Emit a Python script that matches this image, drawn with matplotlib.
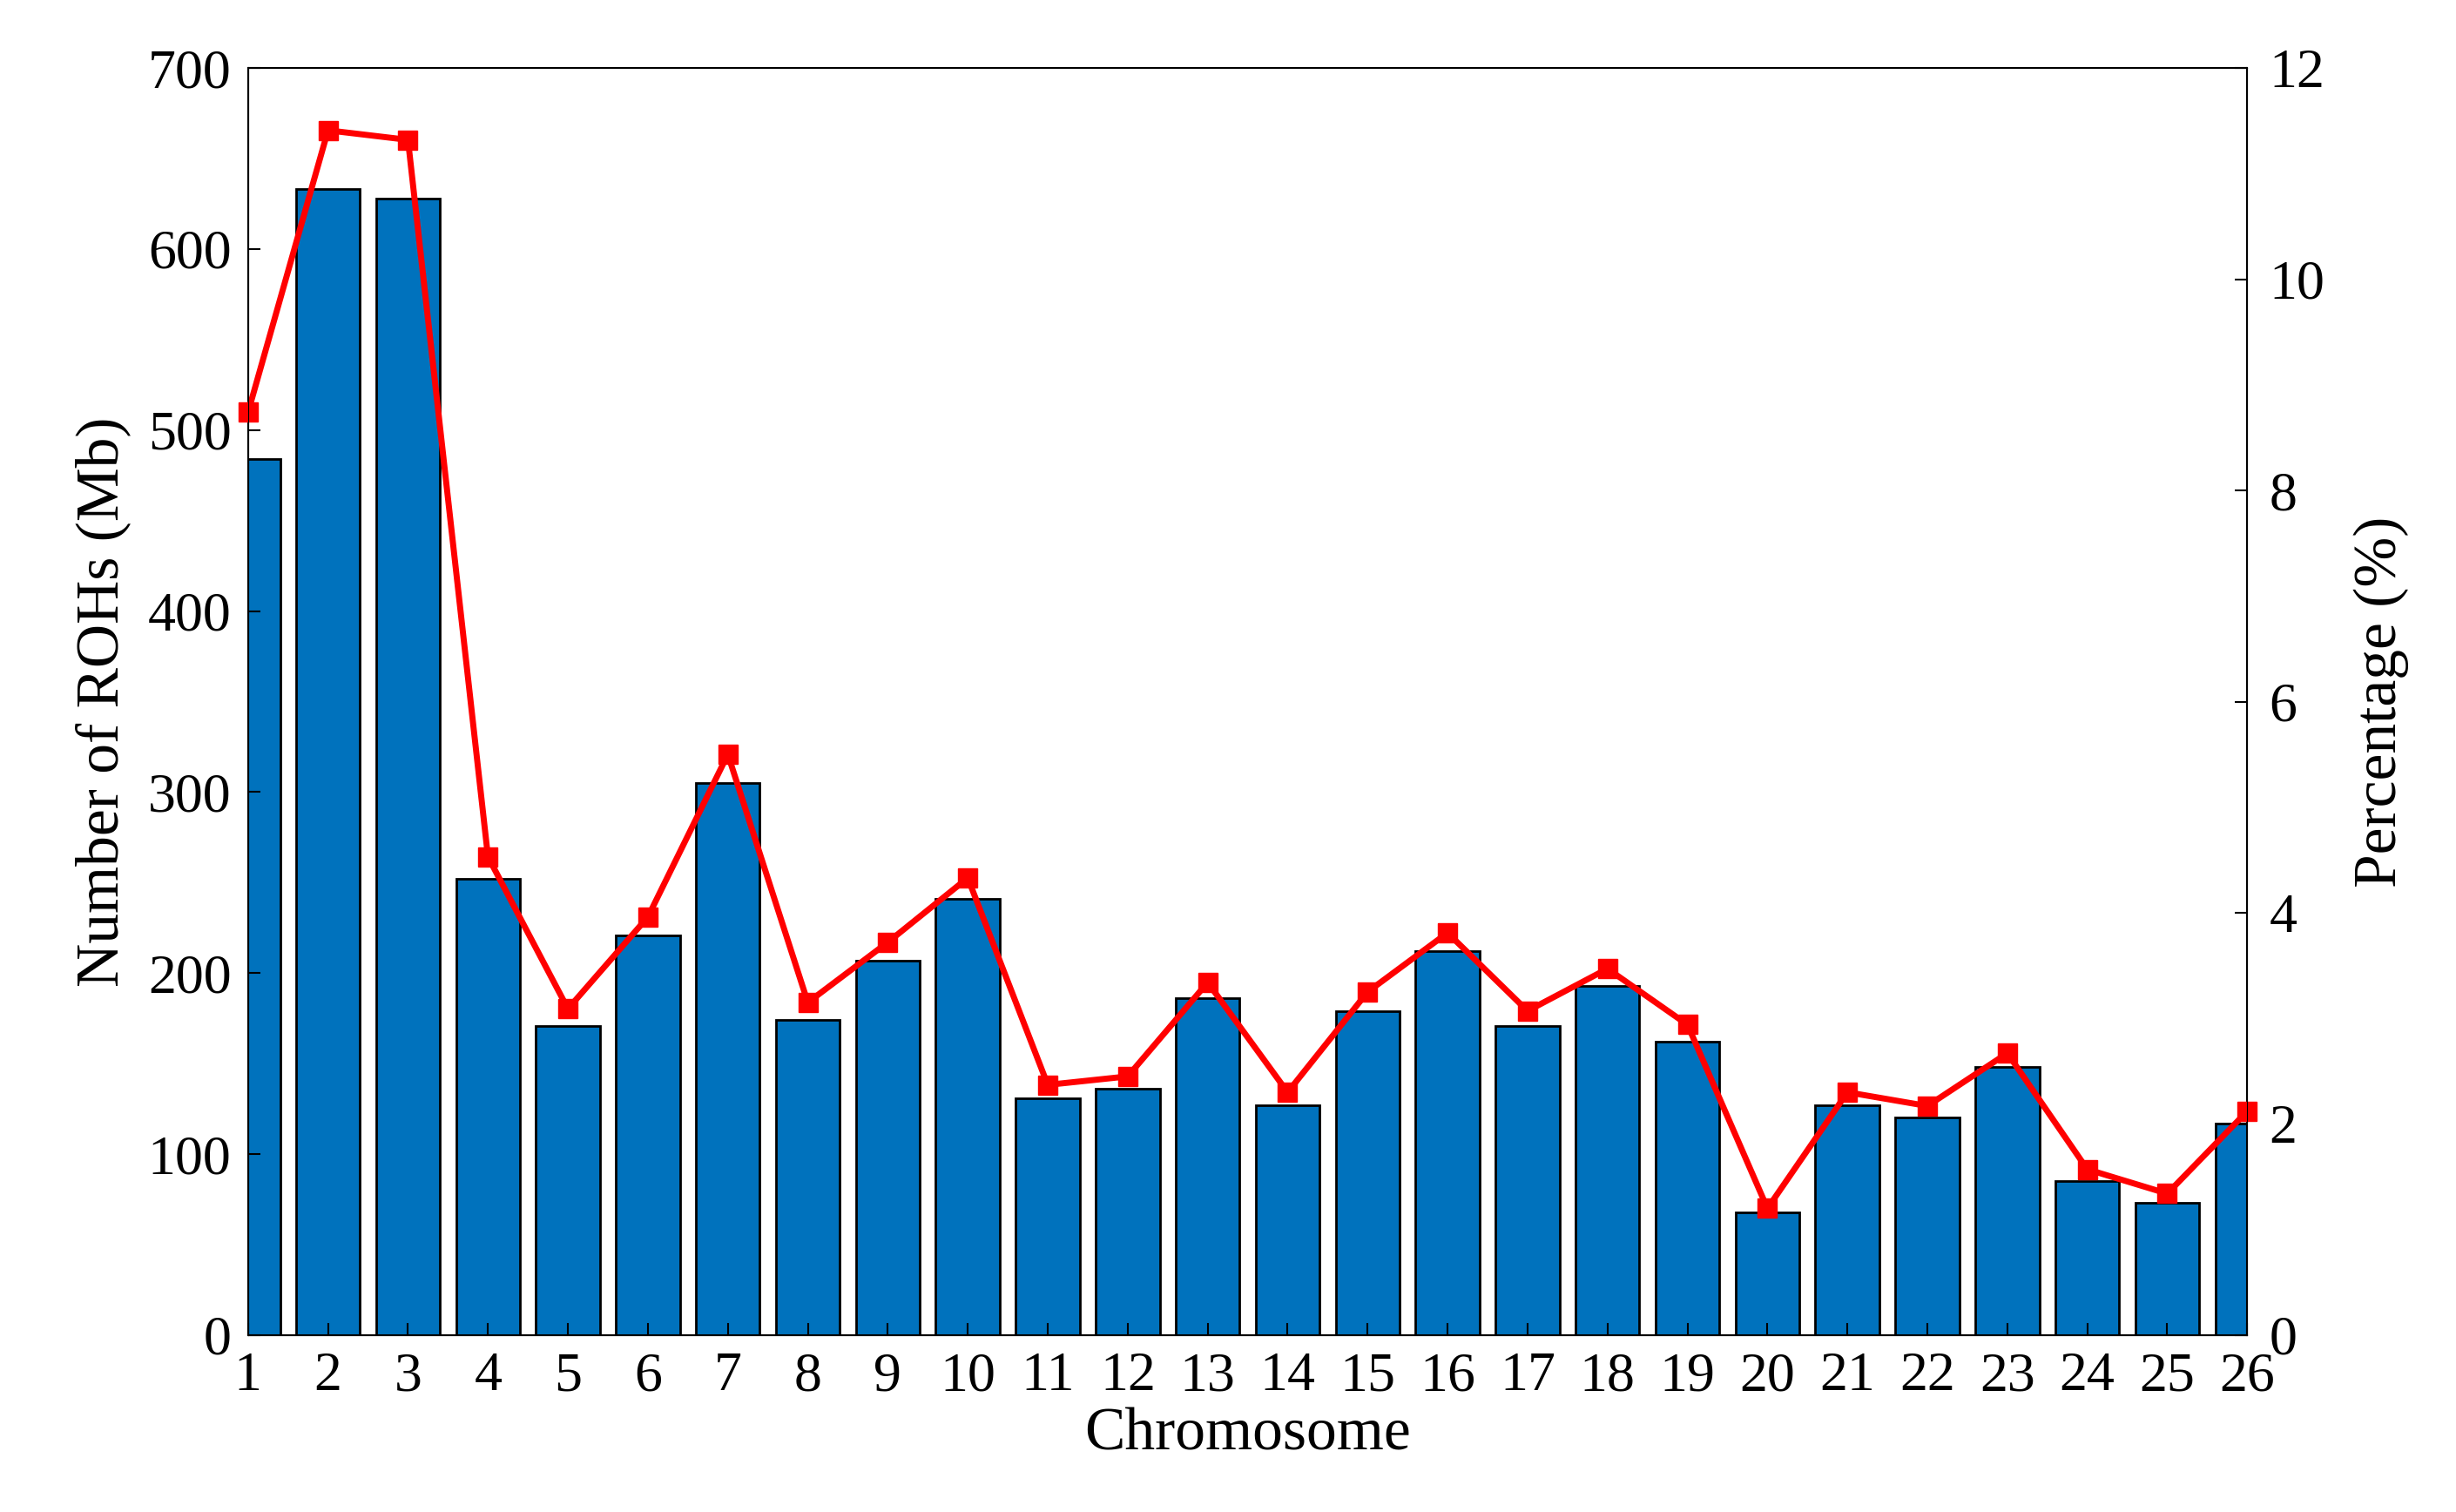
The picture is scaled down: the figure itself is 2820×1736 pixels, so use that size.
import matplotlib
matplotlib.use("Agg")
import matplotlib.pyplot as plt

chromosomes = list(range(1, 27))
roh_counts = [484, 633, 628, 252, 171, 221, 305, 174, 207, 241, 131, 136, 186,
              127, 179, 212, 171, 193, 162, 68, 127, 120, 148, 85, 73, 117]
percentages = [8.74, 11.41, 11.32, 4.53, 3.09, 3.96, 5.50, 3.15, 3.72, 4.33, 2.37,
               2.45, 3.34, 2.30, 3.25, 3.81, 3.07, 3.47, 2.94, 1.20, 2.30, 2.17,
               2.67, 1.57, 1.34, 2.12]

plt.rcParams['font.family'] = ['Liberation Serif', 'DejaVu Serif']
fig = plt.figure(figsize=(28.2, 17.36), dpi=100)
ax = fig.add_axes([0.101, 0.117, 0.814, 0.838])
ax.bar(chromosomes, roh_counts, width=0.8, color='#0072BD', edgecolor='black', linewidth=2)
ax.set_xlim(1, 26)
ax.set_ylim(0, 700)
ax.set_xticks(chromosomes)
ax.set_yticks(range(0, 701, 100))
ax.tick_params(axis='both', labelsize=46, direction='in', length=10, width=1.5, top=False, pad=14)
ax.set_xlabel('Chromosome', fontsize=50, labelpad=4)
ax.set_ylabel('Number of ROHs (Mb)', fontsize=50, labelpad=14)
for s in ax.spines.values():
    s.set_linewidth(1.5)

ax2 = ax.twinx()
ax2.plot(chromosomes, percentages, color='red', linewidth=5, marker='s', markersize=16, clip_on=False)
ax2.set_ylim(0, 12)
ax2.set_yticks(range(0, 13, 2))
ax2.tick_params(labelsize=46, direction='in', length=10, width=1.5, pad=18)
ax2.set_ylabel('Percentage (%)', fontsize=50, labelpad=24)
fig.savefig('out.png', dpi=100)
